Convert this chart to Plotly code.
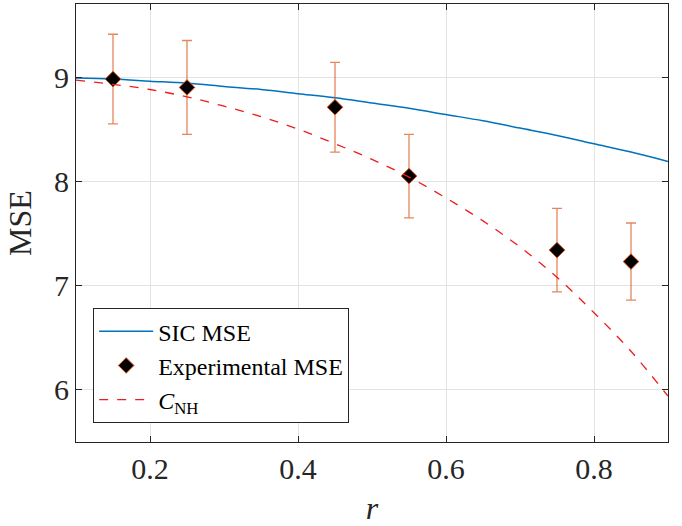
import plotly.graph_objects as go

# Data
r_curve = [0.10, 0.15, 0.20, 0.25, 0.30, 0.35, 0.40, 0.45, 0.50, 0.55,
           0.60, 0.65, 0.70, 0.75, 0.80, 0.85, 0.90]
sic_mse = [8.99, 8.98, 8.96, 8.94, 8.91, 8.88, 8.84, 8.80, 8.75, 8.70,
           8.64, 8.58, 8.51, 8.44, 8.36, 8.28, 8.19]
c_nh = [8.97, 8.93, 8.88, 8.81, 8.72, 8.62, 8.50, 8.36, 8.21, 8.04,
        7.84, 7.62, 7.37, 7.08, 6.74, 6.37, 5.94]

r_exp = [0.15, 0.25, 0.45, 0.55, 0.75, 0.85]
exp_mse = [8.98, 8.90, 8.71, 8.05, 7.34, 7.23]
exp_err = [0.43, 0.45, 0.43, 0.40, 0.40, 0.37]

x_ticks = [0.2, 0.4, 0.6, 0.8]
y_ticks = [6, 7, 8, 9]

FONT = "Liberation Serif"

fig = go.Figure()
fig.add_trace(go.Scatter(
    x=r_curve, y=sic_mse, mode="lines", name="SIC MSE",
    line=dict(color="#0072BD", width=1.5, shape="spline"),
))
fig.add_trace(go.Scatter(
    x=r_exp, y=exp_mse, mode="markers", name="Experimental MSE",
    marker=dict(symbol="diamond", size=12, color="black",
                line=dict(color="#D95319", width=1)),
    error_y=dict(type="data", array=exp_err, visible=True,
                 color="rgba(217,83,25,0.7)", thickness=1.3, width=5),
))
fig.add_trace(go.Scatter(
    x=r_curve, y=c_nh, mode="lines", name="<i>C</i><sub>NH</sub>",
    line=dict(color="#EE1C1C", width=1.3, dash="dash", shape="spline"),
))

axis_common = dict(
    showline=True, linecolor="#262626", linewidth=1, mirror="ticks",
    ticks="inside", ticklen=6, tickcolor="#262626", tickwidth=1,
    showgrid=True, gridcolor="#E3E3E3", gridwidth=1, zeroline=False,
    tickfont=dict(family=FONT, size=30, color="#262626"),
)

fig.update_xaxes(
    range=[0.1, 0.9], tickvals=x_ticks, ticktext=[f"{v:.1f}" for v in x_ticks],
    title=dict(text="<i>r</i>", font=dict(family=FONT, size=32, color="#262626"),
               standoff=12),
    **axis_common,
)
fig.update_yaxes(
    range=[5.5, 9.7], tickvals=y_ticks, ticktext=[str(v) for v in y_ticks],
    title=dict(text="MSE", font=dict(family=FONT, size=32, color="#262626"),
               standoff=12),
    **axis_common,
)

fig.update_layout(
    width=682, height=526,
    margin=dict(l=76, r=14, t=4, b=84),
    plot_bgcolor="white", paper_bgcolor="white",
    font=dict(family=FONT, color="#262626"),
    legend=dict(
        x=0.029, y=0.043, xanchor="left", yanchor="bottom",
        bgcolor="white", bordercolor="#262626", borderwidth=1,
        font=dict(family=FONT, size=24, color="black"),
        tracegroupgap=0, itemwidth=54,
    ),
    showlegend=True,
)

fig.write_html("out.html")
